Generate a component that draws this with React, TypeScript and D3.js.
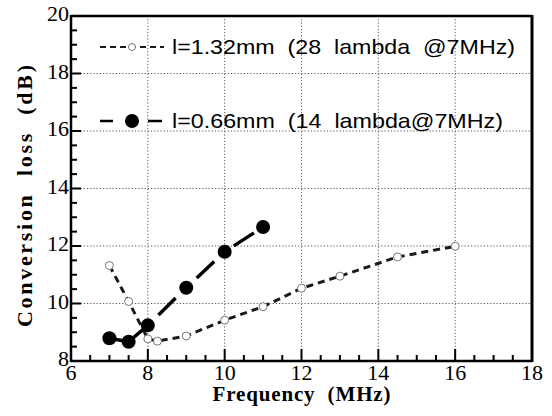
import React from 'react';
import * as d3 from 'd3';

// series
const freqLong = [7, 7.5, 8, 8.25, 9, 10, 11, 12, 13, 14.5, 16];
const lossLong = [11.32, 10.07, 8.77, 8.69, 8.87, 9.42, 9.89, 10.53, 10.95, 11.62, 11.99];
const freqShort = [7, 7.5, 8, 9, 10, 11];
const lossShort = [8.79, 8.67, 9.24, 10.55, 11.8, 12.66];

const xTicks = [6, 8, 10, 12, 14, 16, 18];
const yTicks = [8, 10, 12, 14, 16, 18, 20];
const legendLong = 'l=1.32mm  (28  lambda  @7MHz)';
const legendShort = 'l=0.66mm  (14  lambda@7MHz)';

const W = 552;
const H = 416;
const m = { left: 71, right: 532, top: 16, bottom: 361 };

const serif = 'Liberation Serif';
const sans = 'Liberation Sans';

export default function App() {
  const x = d3.scaleLinear().domain([6, 18]).range([m.left, m.right]);
  const y = d3.scaleLinear().domain([8, 20]).range([m.bottom, m.top]);

  const minorX = d3.range(6, 18.01, 0.5).filter(v => v % 2 !== 0);
  const minorY = d3.range(8, 20.01, 0.5).filter(v => v % 2 !== 0);

  const line = d3.line<[number, number]>().x(d => x(d[0])).y(d => y(d[1]));
  const ptsLong = freqLong.map((f, i) => [f, lossLong[i]] as [number, number]);
  const ptsShort = freqShort.map((f, i) => [f, lossShort[i]] as [number, number]);

  // long-dash series: first two segments solid, then one centred dash per segment
  const segs = ptsShort.slice(1).map((p, i) => {
    const a = ptsShort[i];
    const x1 = x(a[0]), y1 = y(a[1]), x2 = x(p[0]), y2 = y(p[1]);
    const len = Math.hypot(x2 - x1, y2 - y1);
    const dash = 24;
    const gap = (len - dash) / 2;
    return { x1, y1, x2, y2, dashed: i >= 2, arr: `0,${gap},${dash},${gap + 20}` };
  });

  return (
    <svg width={W} height={H} style={{ position: 'absolute', left: 0, top: 0, background: '#fff' }}>
      {/* grid */}
      <g stroke="#555" strokeWidth={1} strokeDasharray="1.2,2">
        {xTicks.slice(1, -1).map(t => (
          <line key={'gx' + t} x1={x(t)} x2={x(t)} y1={m.top} y2={m.bottom} />
        ))}
        {yTicks.slice(1, -1).map(t => (
          <line key={'gy' + t} x1={m.left} x2={m.right} y1={y(t)} y2={y(t)} />
        ))}
      </g>

      {/* ticks */}
      <g stroke="#000" strokeWidth={2}>
        {xTicks.map(t => (
          <line key={'tx' + t} x1={x(t)} x2={x(t)} y1={m.bottom} y2={m.bottom - 12} />
        ))}
        {minorX.map(t => (
          <line key={'mx' + t} x1={x(t)} x2={x(t)} y1={m.bottom} y2={m.bottom - 6} />
        ))}
        {yTicks.map(t => (
          <line key={'ty' + t} x1={m.left} x2={m.left + 10} y1={y(t)} y2={y(t)} />
        ))}
        {minorY.map(t => (
          <line key={'my' + t} x1={m.left} x2={m.left + 6} y1={y(t)} y2={y(t)} />
        ))}
      </g>

      {/* frame */}
      <g stroke="#000" fill="none">
        <line x1={m.left} x2={m.right} y1={m.top} y2={m.top} strokeWidth={2.5} />
        <line x1={m.right} x2={m.right} y1={m.top - 1} y2={m.bottom + 1} strokeWidth={3} />
        <line x1={m.left} x2={m.right} y1={m.bottom} y2={m.bottom} strokeWidth={2.5} />
        <line x1={m.left} x2={m.left} y1={m.top - 1} y2={m.bottom + 1} strokeWidth={2.5} />
      </g>

      {/* tick labels */}
      {xTicks.map(t => (
        <text key={'lx' + t} x={x(t)} y={m.bottom + 19} textAnchor="middle"
          style={{ fontFamily: serif, fontSize: 22 }}>{t}</text>
      ))}
      {yTicks.map(t => (
        <text key={'ly' + t} x={m.left - 2} y={y(t) + 5} textAnchor="end"
          style={{ fontFamily: serif, fontSize: 22 }}>{t}</text>
      ))}

      {/* axis titles */}
      <text x={(m.left + m.right) / 2} y={401} textAnchor="middle" textLength={178} lengthAdjust="spacing"
        style={{ fontFamily: serif, fontWeight: 'bold', fontSize: 21, whiteSpace: 'pre' }}>Frequency  (MHz)</text>
      <text transform="translate(32,196) rotate(-90)" textAnchor="middle" textLength={262} lengthAdjust="spacing"
        style={{ fontFamily: serif, fontWeight: 'bold', fontSize: 22, whiteSpace: 'pre' }}>Conversion  loss  (dB)</text>

      {/* series 1: open circles, short dashes */}
      <path d={line(ptsLong) ?? ''} fill="none" stroke="#1a1a1a" strokeWidth={3} strokeDasharray="7,5" />
      {ptsLong.map((p, i) => (
        <circle key={'cl' + i} cx={x(p[0])} cy={y(p[1])} r={4} fill="#fff" stroke="#777" strokeWidth={1} />
      ))}

      {/* series 2: filled circles, long dashes */}
      {segs.map((s, i) => (
        <line key={'sg' + i} x1={s.x1} y1={s.y1} x2={s.x2} y2={s.y2} stroke="#000" strokeWidth={3.5}
          strokeDasharray={s.dashed ? s.arr : undefined} />
      ))}
      {ptsShort.map((p, i) => (
        <circle key={'cs' + i} cx={x(p[0])} cy={y(p[1])} r={7} fill="#000" />
      ))}

      {/* legend */}
      <line x1={100} x2={164} y1={47} y2={47} stroke="#1a1a1a" strokeWidth={2} strokeDasharray="6,4" />
      <circle cx={132} cy={47} r={3.5} fill="#fff" stroke="#777" strokeWidth={1} />
      <text x={172} y={54} textLength={343} lengthAdjust="spacingAndGlyphs"
        style={{ fontFamily: sans, fontSize: 21, whiteSpace: 'pre' }}>{legendLong}</text>

      <line x1={100} x2={113} y1={121} y2={121} stroke="#000" strokeWidth={2.5} />
      <line x1={148} x2={162} y1={121} y2={121} stroke="#000" strokeWidth={2.5} />
      <circle cx={132} cy={121} r={7} fill="#000" />
      <text x={172} y={128} textLength={331} lengthAdjust="spacingAndGlyphs"
        style={{ fontFamily: sans, fontSize: 21, whiteSpace: 'pre' }}>{legendShort}</text>
    </svg>
  );
}
